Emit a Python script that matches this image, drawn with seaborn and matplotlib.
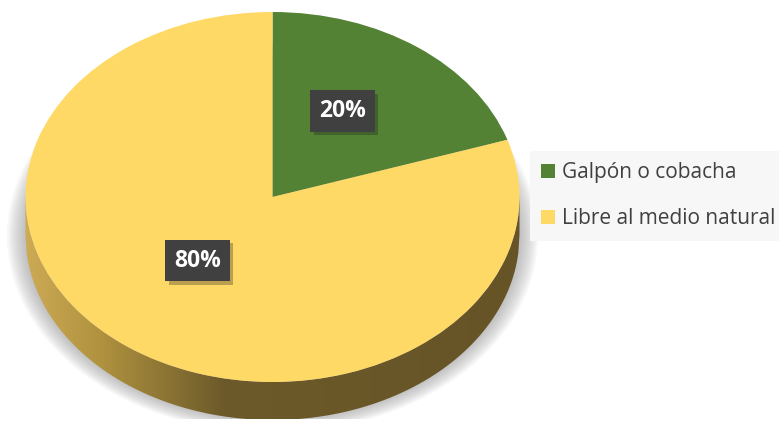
import numpy as np
import matplotlib
matplotlib.use("Agg")
import matplotlib.pyplot as plt
import matplotlib.patheffects as pe
from matplotlib.patches import Polygon, Ellipse
from matplotlib.colors import LinearSegmentedColormap
import seaborn as sns

# data
categories = ["Galpón o cobacha", "Libre al medio natural"]
values = [20, 80]
colors = ["#548235", "#FFD966"]

sns.set_theme(style="white")
plt.rcParams['font.family'] = ['Open Sans', 'DejaVu Sans']

W, H = 779, 430
fig = plt.figure(figsize=(W / 100, H / 100), dpi=100)
fig.patch.set_facecolor("white")

# pie geometry in pixels (y measured from top)
cx, cy, a, b = 272.5, 197, 247, 185
depth = 38 / b
xl, ybot = 1.12, 1.2
ax = fig.add_axes([(cx - a * xl) / W, (H - cy - b * ybot) / H,
                   2 * a * xl / W, b * (1 + ybot) / H])
ax.set_facecolor("white")

# soft shadow behind the disc
for i in range(16):
    s = 1.075 - i * 0.007
    ax.add_patch(Ellipse((0, -0.21), 2 * s, 2 * s * 0.99, fc="#8a8a8a",
                         ec="none", alpha=0.06, zorder=0))

# side of the cylinder with a gradient
x = np.linspace(-1, 1, 400)
yl = -np.sqrt(1 - x ** 2)
verts = np.concatenate([np.column_stack([x, yl]),
                        np.column_stack([x[::-1], yl[::-1] - depth])])
side = Polygon(verts, closed=True, fc="none", ec="none")
ax.add_patch(side)
side_cmap = LinearSegmentedColormap.from_list(
    "side", [(0, "#CDAA55"), (0.15, "#B0923F"), (0.4, "#6C5A2A"), (1, "#665427")])
grad = np.tile(np.linspace(0, 1, 400), (10, 1))
im = ax.imshow(grad, cmap=side_cmap, extent=[-1, 1, -1 - depth, 0],
               aspect="auto", zorder=1, interpolation="bilinear")
im.set_clip_path(side)

# top face
wedges, texts, autotexts = ax.pie(
    values, colors=colors, startangle=90, counterclock=False,
    autopct="%1.0f%%", pctdistance=0.5, radius=1,
    wedgeprops=dict(linewidth=0, zorder=2),
    textprops=dict(color="white", fontsize=16.5, fontweight="bold"))

ax.set_aspect("auto")
ax.set_xlim(-xl, xl)
ax.set_ylim(-ybot, 1)
ax.axis("off")

for t in autotexts:
    px, py = t.get_position()
    t.set_position((px - 0.01, py + 0.06))
    t.set_zorder(5)
    t.set_bbox(dict(boxstyle="square,pad=0.38", fc="#404040", ec="none"))
    t.get_bbox_patch().set_path_effects(
        [pe.withSimplePatchShadow(offset=(2.5, -2.5), shadow_rgbFace="k", alpha=0.3)])

leg = fig.legend(wedges, categories, loc="upper left",
                 bbox_to_anchor=(530 / W, 1 - 151 / H),
                 frameon=True, facecolor="#F7F7F7", edgecolor="none",
                 fancybox=False, framealpha=1, fontsize=15,
                 labelcolor="#404040", handlelength=0.67, handleheight=0.67,
                 handletextpad=0.3, labelspacing=1.2, borderpad=0.55,
                 borderaxespad=0)

fig.savefig("out.png", dpi=100, facecolor="white")
